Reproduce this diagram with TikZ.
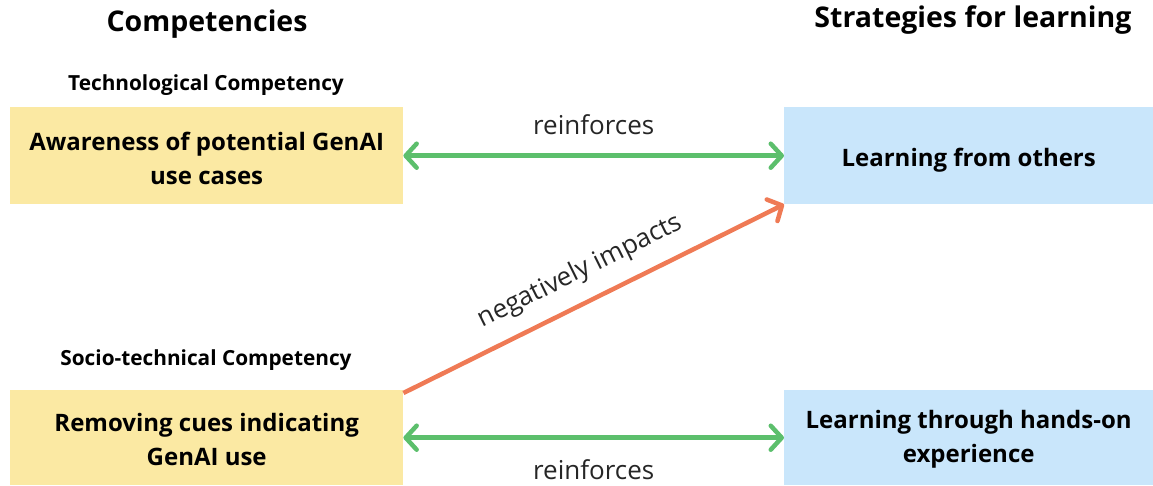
\documentclass[tikz,border=0pt]{standalone}
\usepackage{fontspec}
\setmainfont{Open Sans}
\usetikzlibrary{arrows.meta}
\definecolor{ybox}{HTML}{FBE9A3}
\definecolor{bbox}{HTML}{C9E6FB}
\definecolor{garr}{HTML}{5CBF6C}
\definecolor{oarr}{HTML}{EF7A55}
\tikzset{
  box/.style={anchor=north west, minimum width=393pt, minimum height=97pt, inner sep=0pt},
  yb/.style={box, fill=ybox},
  bb/.style={box, fill=bbox, minimum width=369pt},
  btxt/.style={align=center, inner sep=0pt, font=\fontsize{24}{34}\selectfont\bfseries, text=black},
  head/.style={font=\fontsize{28.5}{32}\selectfont\bfseries, inner sep=0pt},
  sub/.style={font=\fontsize{20.8}{24}\selectfont\bfseries, inner sep=0pt},
  lbl/.style={font=\fontsize{26}{30}\selectfont, text=black!85, inner sep=0pt},
  mybarb/.tip={Straight Barb[length=11pt, width=24pt, line cap=round, line join=round]},
  garrow/.style={draw=garr, line width=4.5pt, {mybarb}-{mybarb}},
  oarrow/.style={draw=oarr, line width=4.5pt, -{mybarb}},
}
\begin{document}
\begin{tikzpicture}[x=1pt, y=-1pt]
\useasboundingbox (0,0) rectangle (1153,485);
\node[head] (h1) at (207,24) {Competencies};
\node[head] (h2) at (973,20) {Strategies for learning};
\node[sub] (s1) at (206,85) {Technological Competency};
\node[sub] (s2) at (206,360) {Socio-technical Competency};
\node[yb] (a) at (10,107) {};
\node[bb] (b) at (784,107) {};
\node[yb, minimum height=95pt] (c) at (10,390) {};
\node[bb, minimum height=95pt] (d) at (784,390) {};
\node[btxt] (at) at ([yshift=-3pt]a.center) {Awareness of potential GenAI\\use cases};
\node[btxt] (bt) at ([yshift=-4pt]b.center) {Learning from others};
\node[btxt] (ct) at ([yshift=-2pt]c.center) {Removing cues indicating\\GenAI use};
\node[btxt] (dt) at ([yshift=-2pt]d.center) {Learning through hands-on\\experience};
\draw[garrow] (a.east) -- node[lbl, above=19pt] (r1) {reinforces} (b.west);
\draw[garrow] (c.east) -- node[lbl, below=20pt] (r2) {reinforces} (d.west);
\draw[oarrow] ([yshift=-3pt]c.north east) -- node[lbl, sloped, above=15pt, pos=0.5] (n) {negatively impacts} (b.south west);
\end{tikzpicture}
\end{document}
